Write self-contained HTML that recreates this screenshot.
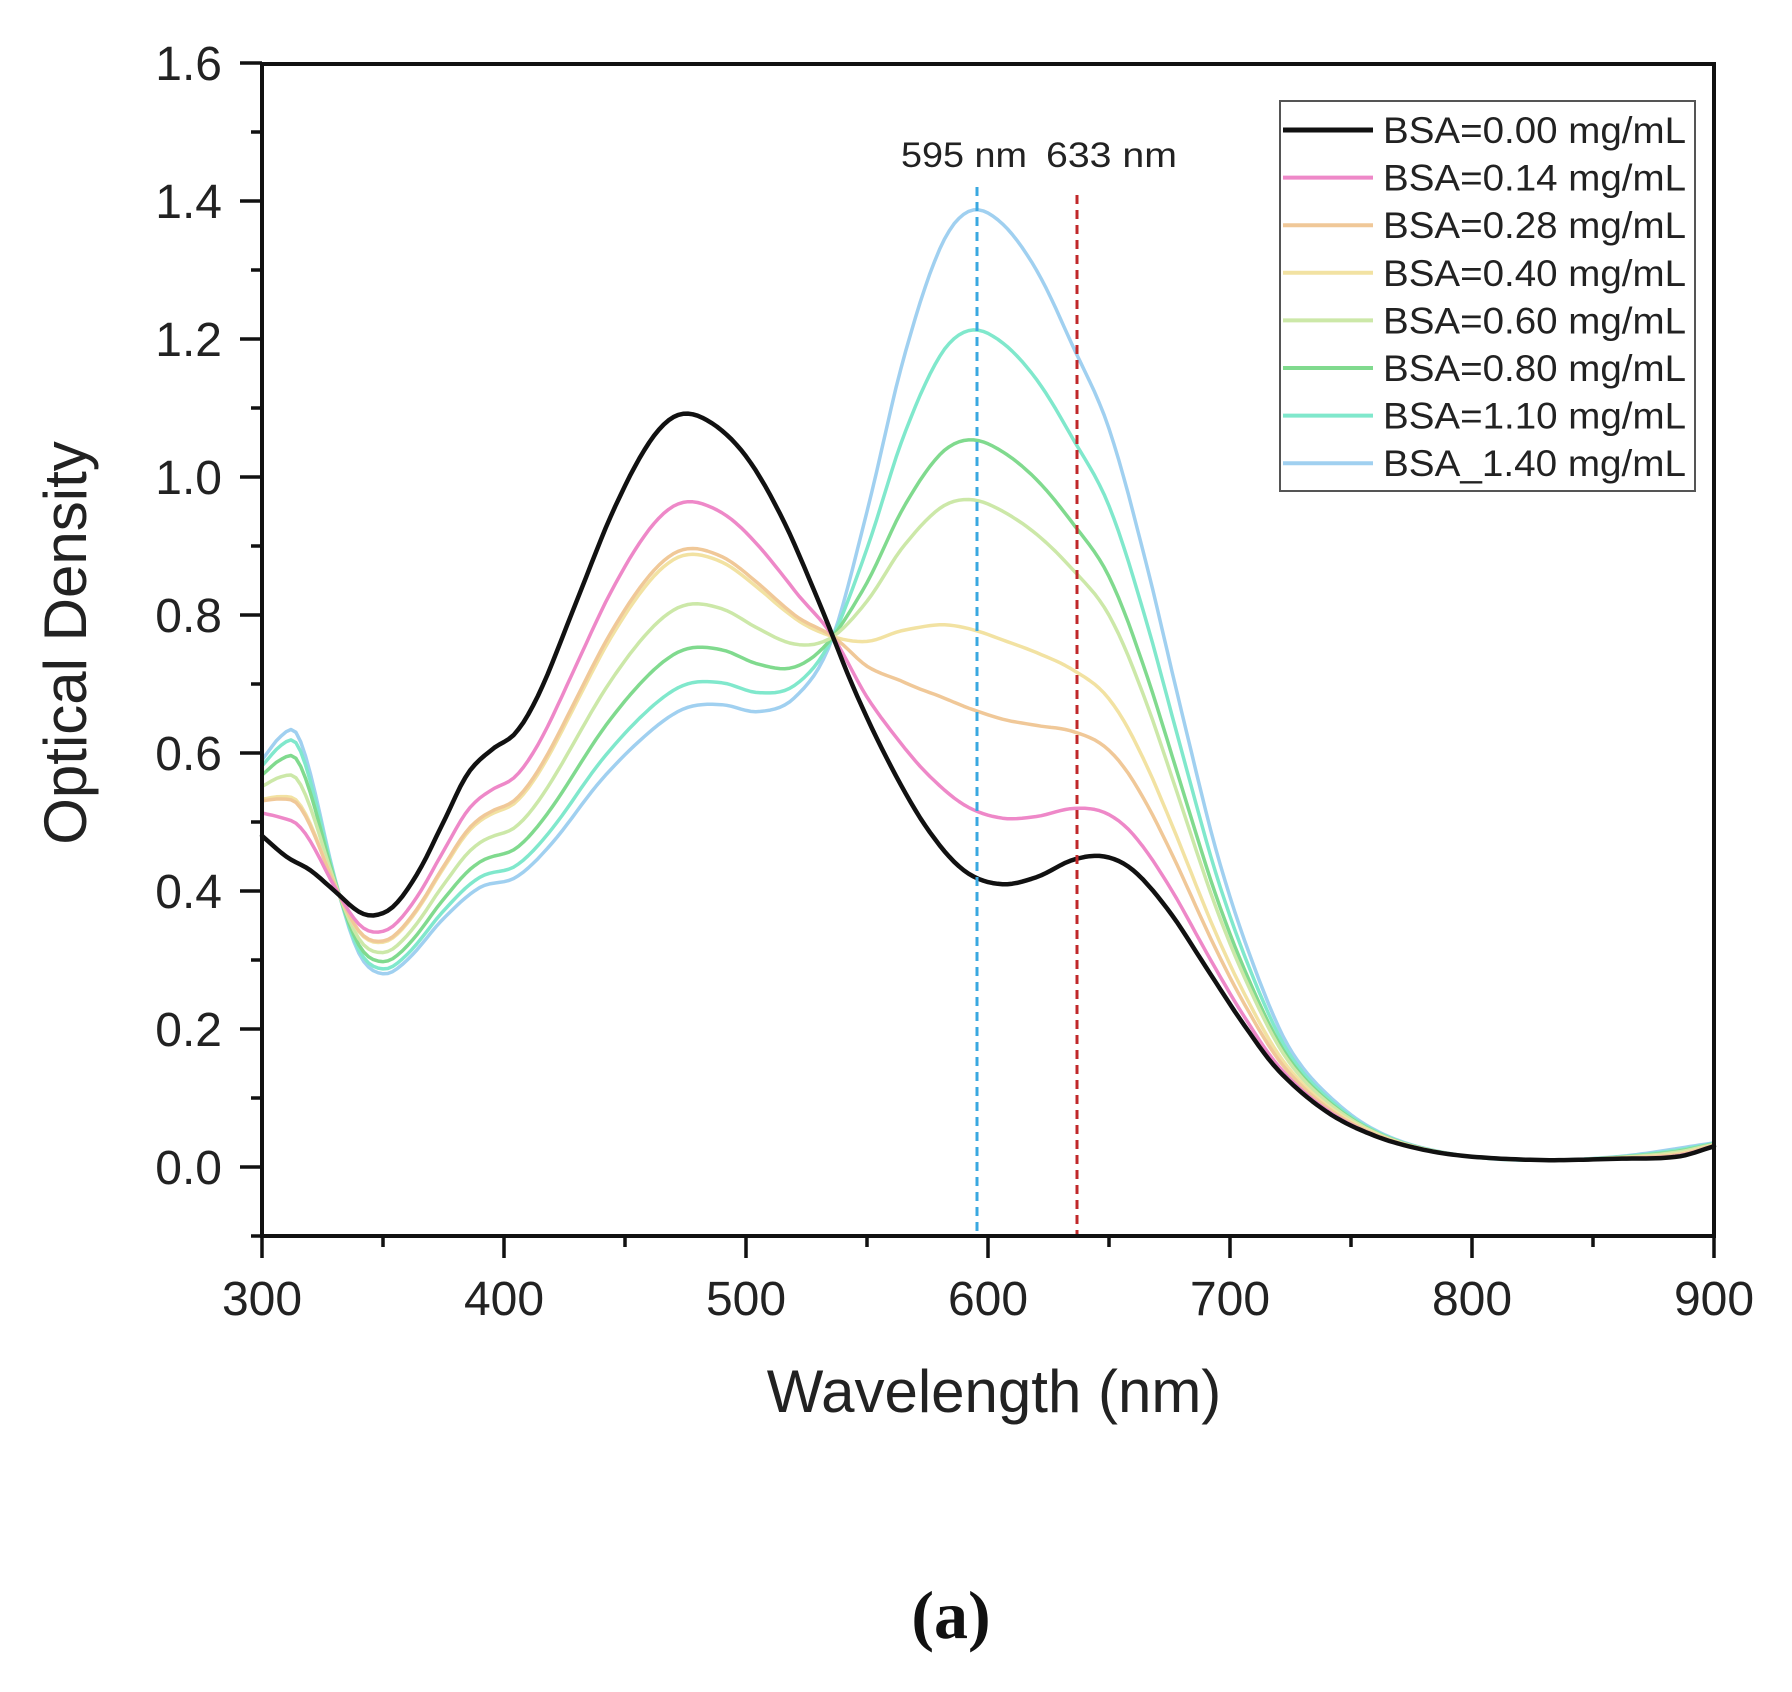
<!DOCTYPE html>
<html><head><meta charset="utf-8"><style>
html,body{margin:0;padding:0;background:#fff;}
svg{display:block;font-family:"Liberation Sans",Arial,sans-serif;}
</style></head><body>
<svg id="s" width="1792" height="1692" viewBox="0 0 1792 1692" xmlns="http://www.w3.org/2000/svg">
<rect width="1792" height="1692" fill="#fff"/>
<g id="curves" fill="none" stroke-linejoin="round" stroke-linecap="round"></g>
<line x1="977" y1="187" x2="977" y2="1236" stroke="#3aa8e0" stroke-width="3" stroke-dasharray="9,6"/>
<line x1="1077" y1="195" x2="1077" y2="1236" stroke="#c0282a" stroke-width="3" stroke-dasharray="9,6"/>
<text x="901" y="167" font-size="35" fill="#222" textLength="126" lengthAdjust="spacingAndGlyphs">595 nm</text>
<text x="1046" y="167" font-size="35" fill="#222" textLength="131" lengthAdjust="spacingAndGlyphs">633 nm</text>
<g id="axes" stroke="#111" stroke-width="4" fill="none">
<rect x="262" y="64" width="1452" height="1172"/>
</g>
<g id="ticks" stroke="#111" stroke-width="3.5"></g>
<g id="labels" font-size="48" fill="#222"></g>
<text transform="translate(86,643) rotate(-90)" text-anchor="middle" font-size="60" fill="#222">Optical Density</text>
<text x="994" y="1412" text-anchor="middle" font-size="60" fill="#222">Wavelength (nm)</text>
<text x="951" y="1638" text-anchor="middle" font-size="68" font-weight="bold" font-family="Liberation Serif,serif" fill="#111">(a)</text>
<g id="legend">
<rect x="1280" y="101" width="415" height="390" fill="#fff" stroke="#555" stroke-width="2"/>
</g>
</svg>
<script>
const NS="http://www.w3.org/2000/svg";
const X=nm=>262+(nm-300)*2.42, Y=v=>1167-v*690;
function el(p,t,a,txt){const e=document.createElementNS(NS,t);for(const k in a)e.setAttribute(k,a[k]);if(txt!==undefined)e.textContent=txt;document.getElementById(p).appendChild(e);return e;}
for(let nm=300;nm<=900;nm+=50){const maj=nm%100==0;el("ticks","line",{x1:X(nm),x2:X(nm),y1:1236,y2:1236+(maj?22:11)});
 if(maj)el("labels","text",{x:X(nm),y:1315,"text-anchor":"middle"},String(nm));}
for(let i=-1;i<=16;i++){const v=i/10,maj=i%2==0;el("ticks","line",{x1:262,x2:262-(maj?22:11),y1:Y(v),y2:Y(v)});
 if(maj&&i>=0)el("labels","text",{x:222,y:Y(v)+17,"text-anchor":"end"},v.toFixed(1));}
const black=[[300,.48],[310,.45],[320,.43],[330,.40],[340,.37],[347,.365],[355,.38],[365,.43],[375,.50],[385,.57],[395,.605],[405,.63],[415,.69],[430,.82],[445,.95],[460,1.05],[472,1.09],[485,1.08],[500,1.03],[515,.94],[530,.82],[545,.69],[560,.58],[575,.49],[590,.43],[605,.41],[620,.42],[635,.445],[648,.45],[660,.43],[675,.37],[690,.29],[705,.21],[720,.14],[740,.08],[760,.045],[780,.025],[800,.015],[830,.01],[860,.012],[885,.015],[900,.03]];
const blue=[[300,.59],[308,.625],[314,.63],[320,.57],[330,.42],[340,.31],[350,.28],[360,.30],[375,.36],[390,.405],[405,.42],[420,.47],[440,.56],[460,.63],[475,.665],[490,.67],[505,.66],[520,.68],[535,.76],[550,.95],[565,1.17],[580,1.33],[592,1.385],[605,1.37],[620,1.30],[635,1.19],[650,1.07],[665,.88],[680,.66],[695,.45],[710,.29],[725,.17],[745,.09],[765,.045],[790,.02],[820,.01],[860,.015],[900,.035]];
function cr(pts,x){let i=0;while(i<pts.length-2&&pts[i+1][0]<x)i++;
 const p0=pts[Math.max(i-1,0)],p1=pts[i],p2=pts[i+1],p3=pts[Math.min(i+2,pts.length-1)];
 const t=(x-p1[0])/(p2[0]-p1[0]),h=p2[0]-p1[0];
 const m1=(p2[1]-p0[1])/(p2[0]-p0[0])*h,m2=(p3[1]-p1[1])/(p3[0]-p1[0])*h;
 const t2=t*t,t3=t2*t;
 return (2*t3-3*t2+1)*p1[1]+(t3-2*t2+t)*m1+(-2*t3+3*t2)*p2[1]+(t3-t2)*m2;}
const series=[
 ["BSA=0.00 mg/mL","#111111",0,0,4.5],
 ["BSA=0.14 mg/mL","#ee88c8",.30,.10,3.5],
 ["BSA=0.28 mg/mL","#f0c898",.46,.25,3.5],
 ["BSA=0.40 mg/mL","#f2e2a2",.48,.37,3.5],
 ["BSA=0.60 mg/mL","#cce8a8",.65,.565,3.5],
 ["BSA=0.80 mg/mL","#80da8e",.80,.655,3.5],
 ["BSA=1.10 mg/mL","#80e8cc",.92,.82,3.5],
 ["BSA_1.40 mg/mL","#a0d0f0",1,1,3.5]];
for(let k=series.length-1;k>=0;k--){const [n,c,tl,tr,w]=series[k];let d="";
 for(let nm=300;nm<=900;nm+=2){let s=Math.min(1,Math.max(0,(nm-520)/30));s=s*s*(3-2*s);
  const t=tl*(1-s)+tr*s;const v=cr(black,nm)*(1-t)+cr(blue,nm)*t;
  d+=(nm==300?"M":"L")+X(nm).toFixed(1)+","+Y(v).toFixed(1);}
 el("curves","path",{d:d,stroke:c,"stroke-width":w});}
series.forEach(([n,c,,,w],i)=>{const y=130+i*47.6;
 el("legend","line",{x1:1283,x2:1373,y1:y,y2:y,stroke:c,"stroke-width":i==0?5:4});
 el("legend","text",{x:1383,y:y+13,"font-size":37,fill:"#222",textLength:303,lengthAdjust:"spacingAndGlyphs"},n);});
</script>
</body></html>
